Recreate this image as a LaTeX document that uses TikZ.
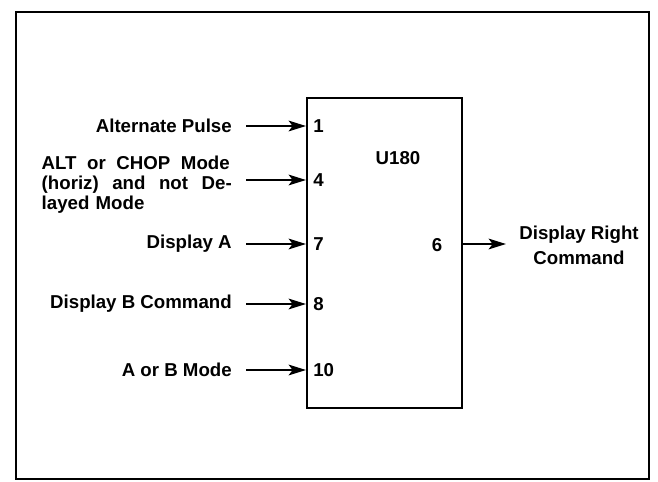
\documentclass[tikz,border=0pt]{standalone}
\usepackage{fontspec}
\setmainfont{Liberation Sans}
\usetikzlibrary{arrows.meta}
\begin{document}
\begin{tikzpicture}[x=0.75pt,y=-0.75pt,
  lbl/.style={font=\bfseries\fontsize{14}{15}\selectfont, inner sep=0pt},
  frame/.style={line width=2.2pt},
  chip/.style={line width=1.7pt},
  sig/.style={line width=1.7pt, -{Stealth[length=13pt,width=8pt,inset=3pt]}}]
\useasboundingbox (0,0) rectangle (658,482);
\draw[frame] (16,12) rectangle (649,479);
\node[chip, draw, minimum width=155*0.75pt, minimum height=310*0.75pt, inner sep=0pt, anchor=north west] (u) at (306,97) {};
\node[lbl] (name) at (398,158) {U180};
% pins
\node[lbl, anchor=west] (p1) at (313,126) {1};
\node[lbl, anchor=west] (p4) at (313,180) {4};
\node[lbl, anchor=west] (p7) at (313,244) {7};
\node[lbl, anchor=west] (p8) at (313,304) {8};
\node[lbl, anchor=west] (p10) at (313,370) {10};
\node[lbl] (p6) at (437,245) {6};
% input labels
\node[lbl, anchor=east] (l1) at (232,126) {Alternate Pulse};
\node[lbl, anchor=east, text width=142.5pt, align=left] (l4) at (232,185)
  {\makebox[141pt][s]{ALT\hfill or\hfill CHOP\hfill Mode}\\\makebox[142.5pt][s]{(horiz)\hfill and\hfill not\hfill De-}\\layed Mode};
\node[lbl, anchor=east] (l7) at (232,244) {Display A};
\node[lbl, anchor=east] (l8) at (232,304) {Display B Command};
\node[lbl, anchor=east] (l10) at (232,370) {A or B Mode};
\node[lbl, align=center, font=\bfseries\fontsize{14}{18.5}\selectfont] (out) at (579,245) {Display Right\\Command};
% connectors
\coordinate (s1) at (246,126);
\coordinate (s4) at (246,180);
\coordinate (s7) at (246,244);
\coordinate (s8) at (246,304);
\coordinate (s10) at (246,370);
\coordinate (e6) at (506,244);
\draw[sig] (s1) -- (s1 -| u.west);
\draw[sig] (s4) -- (s4 -| u.west);
\draw[sig] (s7) -- (s7 -| u.west);
\draw[sig] (s8) -- (s8 -| u.west);
\draw[sig] (s10) -- (s10 -| u.west);
\draw[sig] (e6 -| u.east) -- (e6);
\end{tikzpicture}
\end{document}
